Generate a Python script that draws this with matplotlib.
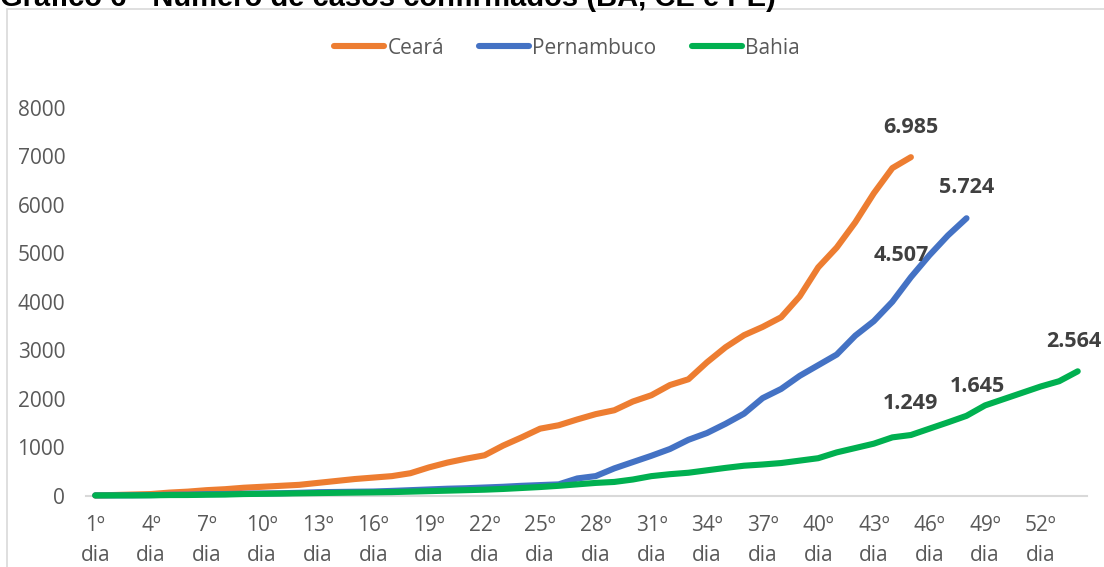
import matplotlib.pyplot as plt
from matplotlib.patches import Rectangle

# casos confirmados acumulados por dia desde o 1º caso
ceara = [0, 10, 20, 30, 60, 80, 110, 130, 160, 180, 200, 220, 260, 300, 340,
         370, 400, 460, 580, 680, 760, 830, 1030, 1200, 1380, 1450, 1570, 1680,
         1760, 1940, 2070, 2280, 2400, 2750, 3060, 3310, 3480, 3680, 4110, 4710,
         5120, 5640, 6240, 6760, 6985]
pernambuco = [2, 2, 4, 7, 16, 19, 28, 30, 37, 42, 46, 56, 68, 73, 78, 82, 95,
              110, 125, 140, 150, 165, 180, 200, 215, 230, 352, 401, 560, 690,
              820, 960, 1150, 1290, 1480, 1690, 2010, 2200, 2470, 2690, 2910,
              3300, 3600, 4000, 4507, 4960, 5370, 5724]
bahia = [2, 2, 2, 4, 9, 10, 16, 20, 30, 35, 40, 45, 50, 55, 60, 65, 70, 80, 90,
         100, 110, 120, 135, 155, 175, 200, 230, 260, 280, 330, 400, 440, 470,
         520, 570, 615, 640, 670, 720, 770, 890, 980, 1070, 1200, 1249, 1380,
         1510, 1645, 1860, 1990, 2120, 2250, 2360, 2564]

n_dias = 54
tick_dias = list(range(1, n_dias + 1, 3))
tick_labels = [f'{d}º\ndia' for d in tick_dias]

# rótulos de dados: (dia, deslocamento x, deslocamento y em px)
rotulos_ce = [(45, 0, 30)]
rotulos_pe = [(45, -10, 22), (48, 0, 31)]
rotulos_ba = [(45, 0, 32), (48, 11, 29), (54, -4, 30)]

plt.rcParams['font.family'] = ['Open Sans', 'DejaVu Sans']

fig = plt.figure(figsize=(11.04, 5.67), dpi=100)
W, H = 1104, 567
ax = fig.add_axes([86 / W, 1 - 495.5 / H, (1087 - 86) / W, (495.5 - 108) / H])

# moldura do gráfico
fig.patches.append(Rectangle((7 / W, -0.1), 1.2, 1 - 9 / H + 0.1,
                             transform=fig.transFigure, fill=False,
                             edgecolor='#D9D9D9', lw=1.2))
fig.text(0, 1 - 6 / H, 'Gráfico 6 - Número de casos confirmados (BA, CE e PE)',
         family='Liberation Sans', weight='bold', fontsize=21, va='baseline',
         ha='left', color='black')

cores = {'Ceará': '#ED7D31', 'Pernambuco': '#4472C4', 'Bahia': '#00B050'}
series = {'Ceará': ceara, 'Pernambuco': pernambuco, 'Bahia': bahia}
for nome, vals in series.items():
    dias = list(range(1, len(vals) + 1))
    ax.plot(dias, vals, color=cores[nome], lw=4.4, label=nome,
            solid_capstyle='round', solid_joinstyle='round', clip_on=False,
            zorder=3)

for nome, rot in [('Ceará', rotulos_ce), ('Pernambuco', rotulos_pe),
                  ('Bahia', rotulos_ba)]:
    vals = series[nome]
    for dia, dx, dy in rot:
        v = vals[dia - 1]
        txt = f'{v:,}'.replace(',', '.')
        ax.annotate(txt, (dia, v), xytext=(dx, dy), textcoords='offset pixels',
                    ha='center', va='center', fontsize=15.5, weight='bold',
                    color='#404040', annotation_clip=False)

ax.set_xlim(0.5, n_dias + 0.5)
ax.set_ylim(0, 8000)
ax.set_yticks(range(0, 8001, 1000))
ax.set_xticks(tick_dias)
ax.set_xticklabels(tick_labels, linespacing=1.55)
ax.tick_params(axis='both', length=0, labelsize=15, labelcolor='#595959')
ax.tick_params(axis='x', pad=14)
ax.tick_params(axis='y', pad=15)
for s in ['top', 'right', 'left']:
    ax.spines[s].set_visible(False)
ax.spines['bottom'].set_color('#D9D9D9')
ax.spines['bottom'].set_linewidth(1.5)
ax.set_facecolor('none')

leg = fig.legend(loc='center', bbox_to_anchor=(567 / W, 1 - 48 / H), ncol=3,
                 frameon=False, fontsize=15, handlelength=2.4,
                 handletextpad=0.15, columnspacing=1.7)
for t in leg.get_texts():
    t.set_color('#595959')
for l in leg.get_lines():
    l.set_linewidth(4.4)
    l.set_solid_capstyle('round')

fig.savefig('out.png', dpi=100)
